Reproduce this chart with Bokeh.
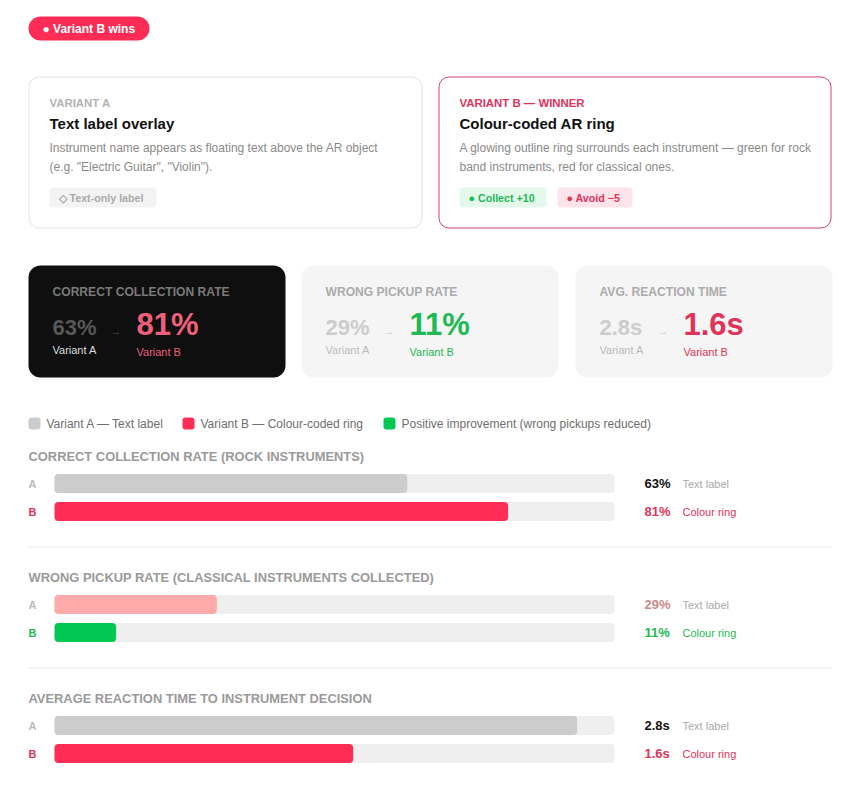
from bokeh.plotting import figure
from bokeh.models import Range1d
from bokeh.core.properties import value
from bokeh.embed import file_html
from bokeh.resources import INLINE

# ---- data -------------------------------------------------------------
kpi_titles = ["CORRECT COLLECTION RATE", "WRONG PICKUP RATE", "AVG. REACTION TIME"]
section_titles = [
    "CORRECT COLLECTION RATE (ROCK INSTRUMENTS)",
    "WRONG PICKUP RATE (CLASSICAL INSTRUMENTS COLLECTED)",
    "AVERAGE REACTION TIME TO INSTRUMENT DECISION",
]
variant_a = [63, 29, 2.8]
variant_b = [81, 11, 1.6]
units = ["%", "%", "s"]
scale_names = ["pct", "pct", "sec"]
scale_max = {"pct": 100.0, "sec": 3.0}
legend_labels = [
    "Variant A \u2014 Text label",
    "Variant B \u2014 Colour-coded ring",
    "Positive improvement (wrong pickups reduced)",
]

# ---- styling ----------------------------------------------------------
W, H = 857, 785
FONT = value("Liberation Sans")
RED = "#ff2d55"
RED_TXT = "#e0335a"
GREEN = "#00c853"
GREEN_TXT = "#1fb954"
GREY_BAR = "#cccccc"
TRACK = "#efefef"

TRACK_L, TRACK_W = 54, 560

p = figure(width=W, height=H, x_range=Range1d(0, W), y_range=Range1d(H, 0),
           output_backend="svg", toolbar_location=None, min_border=0)
p.axis.visible = False
p.grid.visible = False
p.outline_line_color = None
p.background_fill_color = "white"
p.border_fill_color = "white"

# value scales for the bars: 0 sits at the track start, max at the track end
for name, mx in scale_max.items():
    per_px = mx / TRACK_W
    p.extra_x_ranges[name] = Range1d(-TRACK_L * per_px, (W - TRACK_L) * per_px)


def txt(x, y, s, size, color, bold=False, align="left"):
    p.text(x=[x], y=[y], text=[s], text_font=FONT, text_font_size=f"{size}px",
           text_color=color, text_font_style="bold" if bold else "normal",
           text_align=align, text_baseline="middle")


def box(l, r, t, b, fill, line=None, radius=0):
    p.quad(left=[l], right=[r], top=[t], bottom=[b], fill_color=fill,
           line_color=line, line_width=1, border_radius=radius)


# ---- winner badge -----------------------------------------------------
box(28, 149, 16, 40, RED, radius=12)
txt(42, 28.5, "\u25cf Variant B wins", 12, "white", bold=True)

# ---- variant cards ----------------------------------------------------
box(28.5, 421.5, 76.5, 227.5, "white", "#e4e4e4", radius=10)
txt(49, 102, "VARIANT A", 11.4, "#b3b3b3", bold=True)
txt(49, 123, "Text label overlay", 15, "#111111", bold=True)
txt(49, 147, "Instrument name appears as floating text above the AR object", 12, "#8a8a8a")
txt(49, 166, "(e.g. \"Electric Guitar\", \"Violin\").", 12, "#8a8a8a")
box(49, 156, 187, 207, "#f3f3f3", radius=4)
txt(58, 197.5, "\u25c7 Text-only label", 10.7, "#aaaaaa", bold=True)

box(438.5, 830.5, 76.5, 227.5, "white", "#d2456b", radius=10)
txt(459, 102, "VARIANT B \u2014 WINNER", 11.4, RED_TXT, bold=True)
txt(459, 123, "Colour-coded AR ring", 15, "#111111", bold=True)
txt(459, 147, "A glowing outline ring surrounds each instrument \u2014 green for rock", 12, "#8a8a8a")
txt(459, 166, "band instruments, red for classical ones.", 12, "#8a8a8a")
box(459, 546, 187, 207, "#e4f8eb", radius=4)
txt(468, 197.5, "\u25cf Collect +10", 10.7, GREEN_TXT, bold=True)
box(557, 632, 187, 207, "#fde3ea", radius=4)
txt(566, 197.5, "\u25cf Avoid \u22125", 10.7, RED_TXT, bold=True)

# ---- KPI cards --------------------------------------------------------
kpi_left = [28, 301, 575]
kpi_style = [
    # card fill, title, A value, arrow, B value, A caption, B caption
    ("#0f0f0f", "#7a7a7a", "#585858", "#4a4a4a", "#f0607a", "#dddddd", "#e8607a"),
    ("#f5f5f5", "#ababab", "#cccccc", "#cfcfcf", GREEN_TXT, "#bbbbbb", GREEN_TXT),
    ("#f5f5f5", "#ababab", "#cccccc", "#cfcfcf", RED_TXT, "#bbbbbb", RED_TXT),
]
for i, left in enumerate(kpi_left):
    fill, c_title, c_a, c_arrow, c_b, c_cap_a, c_cap_b = kpi_style[i]
    box(left, left + 257, 265, 377, fill, radius=12)
    x0 = left + 24
    txt(x0, 291, kpi_titles[i], 12.1, c_title, bold=True)
    txt(x0, 327, f"{variant_a[i]:g}{units[i]}", 22, c_a, bold=True)
    txt(x0 + 58, 330, "\u2192", 11, c_arrow)
    txt(x0 + 84, 324, f"{variant_b[i]:g}{units[i]}", 31, c_b, bold=True)
    txt(x0, 349, "Variant A", 11, c_cap_a)
    txt(x0 + 84, 351, "Variant B", 11, c_cap_b)

# ---- legend -----------------------------------------------------------
legend_x = [28, 182, 383]
legend_colors = [GREY_BAR, RED, GREEN]
for lx, lc, lt in zip(legend_x, legend_colors, legend_labels):
    box(lx, lx + 12, 417, 429, lc, radius=3)
    txt(lx + 18, 423.5, lt, 12, "#6e6e6e")

# ---- bar sections -----------------------------------------------------
section_y = [456, 577, 698]
bar_colors = [(GREY_BAR, RED), ("#ffaaaa", GREEN), (GREY_BAR, RED)]
b_txt_colors = [RED_TXT, GREEN_TXT, RED_TXT]
a_val_colors = ["#111111", "#c98a8a", "#111111"]
BAR_H = 19

for i, ty in enumerate(section_y):
    txt(28, ty, section_titles[i], 12.9, "#9a9a9a", bold=True)
    rows = [
        ("A", variant_a[i], bar_colors[i][0], "#bbbbbb", a_val_colors[i], "Text label", "#aaaaaa"),
        ("B", variant_b[i], bar_colors[i][1], b_txt_colors[i], b_txt_colors[i], "Colour ring", b_txt_colors[i]),
    ]
    for j, (lab, val, col, lab_col, val_col, note, note_col) in enumerate(rows):
        cy = ty + 27 + 28 * j
        txt(28, cy, lab, 11, lab_col, bold=True)
        box(TRACK_L, TRACK_L + TRACK_W, cy - BAR_H / 2, cy + BAR_H / 2, TRACK, radius=4)
        p.quad(left=[0], right=[val], top=[cy - BAR_H / 2], bottom=[cy + BAR_H / 2],
               x_range_name=scale_names[i], fill_color=col, line_color=None,
               border_radius=4)
        txt(644, cy, f"{val:g}{units[i]}", 13, val_col, bold=True)
        txt(682, cy, note, 11, note_col)
    if i < len(section_y) - 1:
        p.segment(x0=[28], x1=[831], y0=[ty + 90.5], y1=[ty + 90.5],
                  line_color="#e8e8e8", line_width=1)

open("out.html", "w").write(file_html(p, INLINE))
